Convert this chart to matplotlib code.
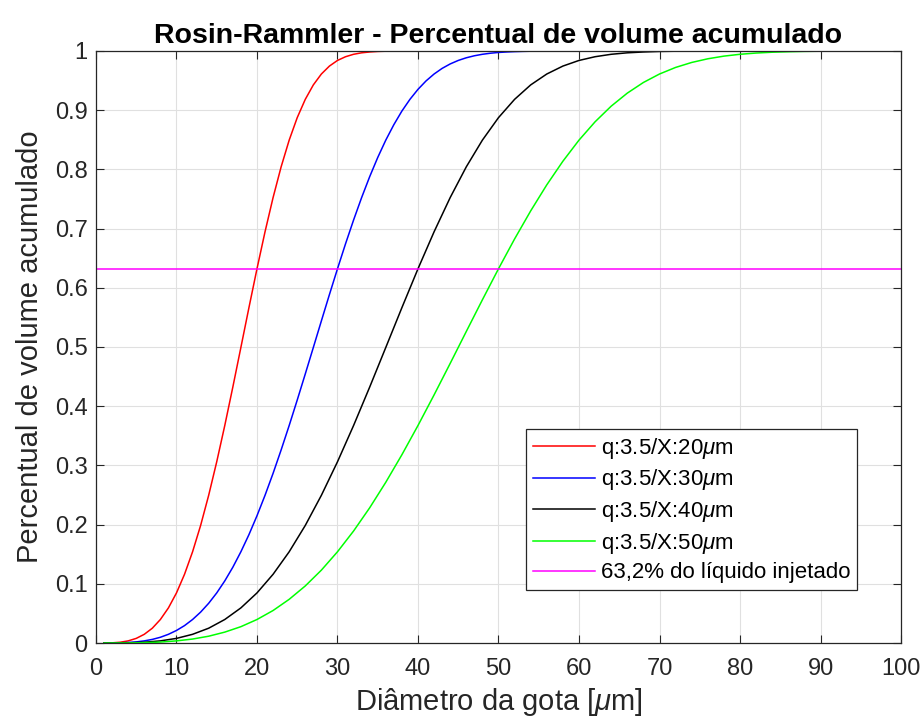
import numpy as np
import matplotlib.pyplot as plt

plt.rcParams['font.family'] = ['Liberation Sans', 'DejaVu Sans']
plt.rcParams['mathtext.fontset'] = 'custom'
plt.rcParams['mathtext.it'] = 'Liberation Sans:italic'

# droplet diameter [um] for each curve (finer steps where the curve bends fast)
d_x20 = list(range(1, 41)) + [100]
d_x30 = list(range(1, 61)) + [100]
d_x40 = [1] + list(range(2, 101, 2))
d_x50 = [1] + list(range(2, 101, 2))

# cumulative volume fraction (q = 3.5)
vol_x20 = [0.0, 0.0003, 0.0013, 0.0036, 0.0078, 0.0147, 0.0250, 0.0397, 0.0593, 0.0846,
           0.1161, 0.1541, 0.1986, 0.2495, 0.3061, 0.3674, 0.4323, 0.4992, 0.5664, 0.6321,
           0.6946, 0.7524, 0.8043, 0.8494, 0.8874, 0.9183, 0.9427, 0.9611, 0.9745, 0.9840,
           0.9903, 0.9944, 0.9969, 0.9983, 0.9992, 0.9996, 0.9998, 0.9999, 1.0, 1.0,
           1.0]
vol_x30 = [0.0, 0.0001, 0.0003, 0.0009, 0.0019, 0.0036, 0.0061, 0.0097, 0.0147, 0.0212,
           0.0294, 0.0397, 0.0522, 0.0671, 0.0846, 0.1049, 0.1280, 0.1541, 0.1830, 0.2149,
           0.2495, 0.2866, 0.3261, 0.3674, 0.4104, 0.4545, 0.4992, 0.5441, 0.5886, 0.6321,
           0.6743, 0.7145, 0.7524, 0.7877, 0.8201, 0.8494, 0.8755, 0.8985, 0.9183, 0.9352,
           0.9494, 0.9611, 0.9706, 0.9781, 0.9840, 0.9885, 0.9919, 0.9944, 0.9962, 0.9975,
           0.9983, 0.9989, 0.9993, 0.9996, 0.9998, 0.9999, 0.9999, 1.0, 1.0, 1.0,
           1.0]
vol_x40 = [0.0, 0.0, 0.0003, 0.0013, 0.0036, 0.0078, 0.0147, 0.0250, 0.0397, 0.0593, 0.0846,
           0.1161, 0.1541, 0.1986, 0.2495, 0.3061, 0.3674, 0.4323, 0.4992, 0.5664, 0.6321,
           0.6946, 0.7524, 0.8043, 0.8494, 0.8874, 0.9183, 0.9427, 0.9611, 0.9745, 0.9840,
           0.9903, 0.9944, 0.9969, 0.9983, 0.9992, 0.9996, 0.9998, 0.9999, 1.0, 1.0,
           1.0, 1.0, 1.0, 1.0, 1.0, 1.0, 1.0, 1.0, 1.0, 1.0]
vol_x50 = [0.0, 0.0, 0.0001, 0.0006, 0.0016, 0.0036, 0.0067, 0.0115, 0.0184, 0.0276, 0.0397,
           0.0549, 0.0738, 0.0964, 0.1231, 0.1541, 0.1892, 0.2284, 0.2715, 0.3180, 0.3674,
           0.4191, 0.4723, 0.5262, 0.5797, 0.6321, 0.6825, 0.7299, 0.7739, 0.8138, 0.8494,
           0.8804, 0.9068, 0.9288, 0.9468, 0.9611, 0.9722, 0.9806, 0.9868, 0.9913, 0.9944,
           0.9965, 0.9979, 0.9987, 0.9993, 0.9996, 0.9998, 0.9999, 1.0, 1.0, 1.0]

diametros = [d_x20, d_x30, d_x40, d_x50]
series = [vol_x20, vol_x30, vol_x40, vol_x50]
labels = [r'q:3.5/X:20$\mu$m', r'q:3.5/X:30$\mu$m', r'q:3.5/X:40$\mu$m', r'q:3.5/X:50$\mu$m']
colors = ['#ff0000', '#0000ff', '#000000', '#00ff00']

nivel = 0.632
nivel_label = '63,2% do líquido injetado'

fig = plt.figure(figsize=(9.21, 7.22), dpi=100)
ax = fig.add_axes([0.1042, 0.1094, 0.8741, 0.82])

for d, vals, lab, c in zip(diametros, series, labels, colors):
    ax.plot(d, vals, color=c, lw=1.1, label=lab)
ax.plot([0, 100], [nivel, nivel], color='#ff00ff', lw=1.1, label=nivel_label)

ax.set_xlim(0, 100)
ax.set_ylim(0, 1)
ax.set_xticks(np.arange(0, 101, 10))
ax.set_yticks(np.arange(0, 1.01, 0.1))
ax.set_yticklabels(['0', '0.1', '0.2', '0.3', '0.4', '0.5', '0.6', '0.7', '0.8', '0.9', '1'])
ax.grid(True, color='#e0e0e0', lw=0.8)
ax.set_axisbelow(True)
ax.tick_params(direction='in', top=True, right=True, labelsize=17, colors='#262626',
               length=6, width=0.8, pad=6)
ax.tick_params(axis='x', pad=11)
for s in ax.spines.values():
    s.set_color('#262626')
    s.set_linewidth(0.9)

ax.set_title('Rosin-Rammler - Percentual de volume acumulado', fontsize=20.5,
             fontweight='bold', pad=6)
ax.set_xlabel(r'Diâmetro da gota [$\mu$m]', fontsize=21, color='#262626', labelpad=4)
ax.set_ylabel('Percentual de volume acumulado', fontsize=21, color='#262626', labelpad=8)

leg = ax.legend(loc='lower right', bbox_to_anchor=(0.945, 0.0895), fontsize=16,
                frameon=True, fancybox=False, edgecolor='#262626', framealpha=1,
                handlelength=2.8, handletextpad=0.25, borderpad=0.3, labelspacing=0.3,
                borderaxespad=0)
leg.get_frame().set_linewidth(0.9)

plt.savefig('out.png', dpi=100)
